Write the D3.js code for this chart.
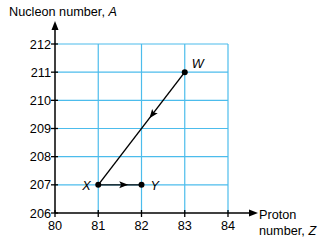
<!DOCTYPE html>
<html>
<head>
<meta charset="utf-8">
<script src="https://cdn.jsdelivr.net/npm/d3@7"></script>
<style>
  body { margin: 0; background: #fff; }
  svg { display: block; font-family: "Liberation Sans", Arial, sans-serif; }
</style>
</head>
<body>
<svg id="chart" width="325" height="246"></svg>
<script>
"use strict";

// proton number Z ticks and nucleon number A ticks
const zTicks = [80, 81, 82, 83, 84];
const aTicks = [206, 207, 208, 209, 210, 211, 212];

// decay path W -> X -> Y
const points = [
    { name: "W", z: 83, a: 211, dx: 7, dy: -4 },
    { name: "X", z: 81, a: 207, dx: -16, dy: 5 },
    { name: "Y", z: 82, a: 207, dx: 9, dy: 5 }
];
const path = [
    { from: "W", to: "X", at: 0.38 },
    { from: "X", to: "Y", at: 0.6 }
];

const svg = d3.select("#chart");
const x = d3.scaleLinear().domain([80, 84]).range([55, 228]);
const y = d3.scaleLinear().domain([206, 212]).range([213, 44]);
const gridColor = "#4cbcec";
const fs = 12.7;

// grid
svg.append("g").selectAll("line.v")
    .data(zTicks.slice(1))
    .enter().append("line")
    .attr("x1", d => x(d)).attr("x2", d => x(d))
    .attr("y1", y(206)).attr("y2", y(212))
    .attr("stroke", gridColor).attr("stroke-width", 1.2);
svg.append("g").selectAll("line.h")
    .data(aTicks.slice(1))
    .enter().append("line")
    .attr("x1", x(80)).attr("x2", x(84))
    .attr("y1", d => y(d)).attr("y2", d => y(d))
    .attr("stroke", gridColor).attr("stroke-width", 1.2);

// axes
svg.append("line")
    .attr("x1", x(80)).attr("x2", 252)
    .attr("y1", y(206)).attr("y2", y(206))
    .attr("stroke", "#000").attr("stroke-width", 1.5);
svg.append("path")
    .attr("d", `M258,${y(206)} L249,${y(206) - 3.5} L249,${y(206) + 3.5} Z`)
    .attr("fill", "#000");
svg.append("line")
    .attr("x1", x(80)).attr("x2", x(80))
    .attr("y1", y(206)).attr("y2", 28)
    .attr("stroke", "#000").attr("stroke-width", 1.5);
svg.append("path")
    .attr("d", `M${x(80)},21 L${x(80) - 3.5},30 L${x(80) + 3.5},30 Z`)
    .attr("fill", "#000");

// ticks
svg.append("g").selectAll("line")
    .data(zTicks)
    .enter().append("line")
    .attr("x1", d => x(d)).attr("x2", d => x(d))
    .attr("y1", y(206) - 3).attr("y2", y(206) + 4)
    .attr("stroke", "#000").attr("stroke-width", 1.3);
svg.append("g").selectAll("line")
    .data(aTicks)
    .enter().append("line")
    .attr("x1", x(80) - 4).attr("x2", x(80) + 3)
    .attr("y1", d => y(d)).attr("y2", d => y(d))
    .attr("stroke", "#000").attr("stroke-width", 1.3);

// tick labels
svg.append("g").selectAll("text")
    .data(zTicks)
    .enter().append("text")
    .attr("x", d => x(d)).attr("y", y(206) + 17)
    .attr("text-anchor", "middle")
    .attr("font-size", fs)
    .text(d => d);
svg.append("g").selectAll("text")
    .data(aTicks)
    .enter().append("text")
    .attr("x", x(80) - 4).attr("y", d => y(d) + 4.5)
    .attr("text-anchor", "end")
    .attr("font-size", fs)
    .text(d => d);

// axis titles
const yt = svg.append("text").attr("x", 9).attr("y", 16).attr("font-size", fs);
yt.append("tspan").text("Nucleon number, ");
yt.append("tspan").attr("font-style", "italic").text("A");
svg.append("text").attr("x", 259).attr("y", 219).attr("font-size", fs).text("Proton");
const xt = svg.append("text").attr("x", 259).attr("y", 235).attr("font-size", fs);
xt.append("tspan").text("number, ");
xt.append("tspan").attr("font-style", "italic").text("Z");

// path segments with mid arrows
const byName = {};
points.forEach(p => { byName[p.name] = p; });
path.forEach(s => {
    const a = byName[s.from], b = byName[s.to];
    const x1 = x(a.z), y1 = y(a.a), x2 = x(b.z), y2 = y(b.a);
    svg.append("line")
        .attr("x1", x1).attr("y1", y1).attr("x2", x2).attr("y2", y2)
        .attr("stroke", "#000").attr("stroke-width", 1.4);
    const ang = Math.atan2(y2 - y1, x2 - x1) * 180 / Math.PI;
    const mx = x1 + (x2 - x1) * s.at, my = y1 + (y2 - y1) * s.at;
    svg.append("path")
        .attr("d", "M4,0 L-5,-3.5 L-3,0 L-5,3.5 Z")
        .attr("transform", `translate(${mx},${my}) rotate(${ang})`)
        .attr("fill", "#000");
});

// points
svg.append("g").selectAll("circle")
    .data(points)
    .enter().append("circle")
    .attr("cx", d => x(d.z)).attr("cy", d => y(d.a))
    .attr("r", 3).attr("fill", "#000");
svg.append("g").selectAll("text")
    .data(points)
    .enter().append("text")
    .attr("x", d => x(d.z) + d.dx).attr("y", d => y(d.a) + d.dy)
    .attr("font-size", fs).attr("font-style", "italic")
    .text(d => d.name);
</script>
</body>
</html>
